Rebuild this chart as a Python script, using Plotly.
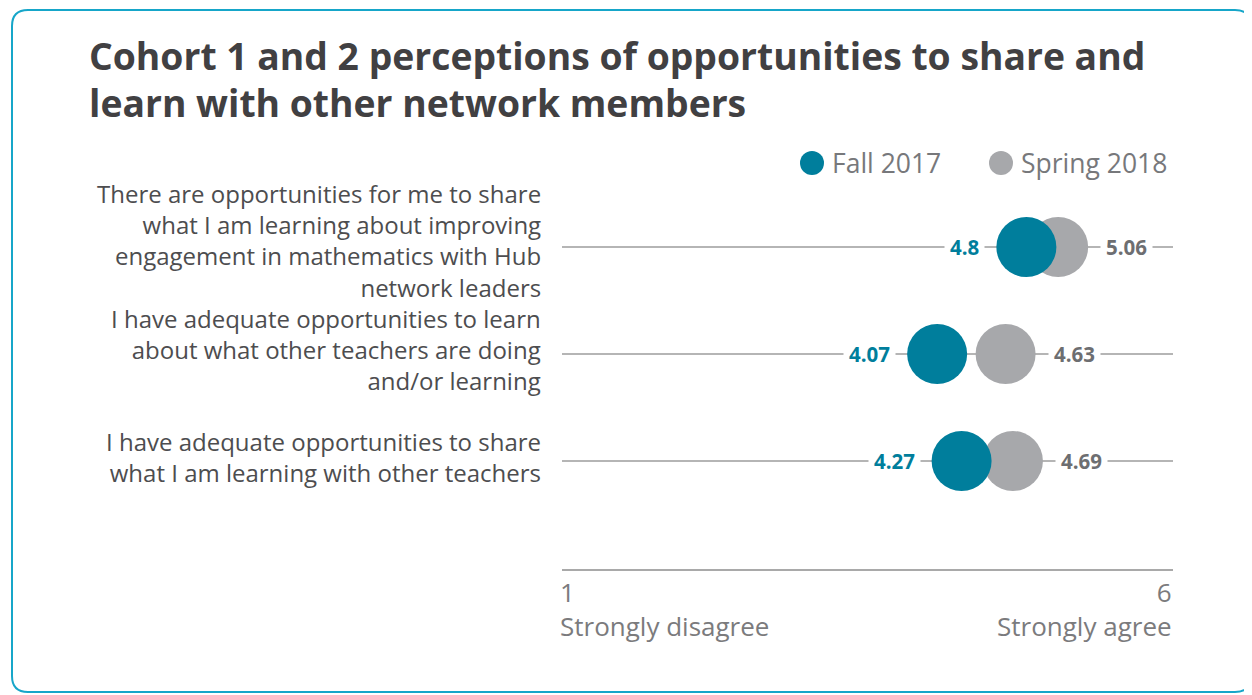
import plotly.graph_objects as go

# ---------------- data ----------------
statements = [
    ["There are opportunities for me to share", "what I am learning about improving",
     "engagement in mathematics with Hub", "network leaders"],
    ["I have adequate opportunities to learn", "about what other teachers are doing",
     "and/or learning"],
    ["I have adequate opportunities to share", "what I am learning with other teachers"],
]
fall_2017 = [4.8, 4.07, 4.27]
spring_2018 = [5.06, 4.63, 4.69]
series_names = ["Fall 2017", "Spring 2018"]
scale_min, scale_max = 1, 6
scale_labels = ["Strongly disagree", "Strongly agree"]
title_lines = ["Cohort 1 and 2 perceptions of opportunities to share and",
               "learn with other network members"]

# ---------------- style ----------------
OFF = 8                      # page body margin
W, H = 1252 - OFF, 695 - OFF
L, R, T, B = 562 - OFF, 1173 - OFF, 190 - OFF, 569 - OFF
TEAL = "#007e9c"
GRAY = "#a7a8ab"
GRAY_TXT = "#6d6e71"
LINE = "#b5b5b5"
TXT = "#4d4d4f"
TICK_TXT = "#7b7b7d"
BORDER = "#16a6c9"
FONT = "Open Sans"
ROW_LABEL_SHIFT = [7, 4, 4]


def px2x(px):  # reference-screen px -> paper
    return (px - OFF - L) / (R - L)


def py2y(py):
    return (B - (py - OFF)) / (B - T)


rows = list(range(len(statements)))

fig = go.Figure()

for r in rows:
    fig.add_shape(type="line", xref="x", yref="y", x0=scale_min, x1=scale_max,
                  y0=r, y1=r, line=dict(color=LINE, width=2), layer="below")

fig.add_trace(go.Scatter(x=spring_2018, y=rows, mode="markers", name=series_names[1],
                         marker=dict(size=60, color=GRAY, line=dict(width=0)),
                         showlegend=False, hoverinfo="x"))
fig.add_trace(go.Scatter(x=fall_2017, y=rows, mode="markers", name=series_names[0],
                         marker=dict(size=60, color=TEAL, line=dict(width=0)),
                         showlegend=False, hoverinfo="x"))

annotations = []
for r, v in zip(rows, fall_2017):
    annotations.append(dict(x=v, y=r, xref="x", yref="y", text=f"<b>{v:g}</b>",
                            showarrow=False, xanchor="right", yanchor="middle",
                            xshift=-41, bgcolor="white", borderpad=5,
                            font=dict(family=FONT, size=20.5, color=TEAL)))
for r, v in zip(rows, spring_2018):
    annotations.append(dict(x=v, y=r, xref="x", yref="y", text=f"<b>{v:g}</b>",
                            showarrow=False, xanchor="left", yanchor="middle",
                            xshift=42, bgcolor="white", borderpad=5,
                            font=dict(family=FONT, size=20.5, color=GRAY_TXT)))
# row labels
for r, lines in zip(rows, statements):
    annotations.append(dict(x=0, y=r, xref="paper", yref="y", text="<br>".join(lines),
                            showarrow=False, xanchor="right", yanchor="middle", align="right",
                            xshift=-19, yshift=ROW_LABEL_SHIFT[r],
                            font=dict(family=FONT, size=24, color=TXT)))
# axis end labels
for val, lab, anc, align, xs in [(scale_min, scale_labels[0], "left", "left", -4),
                                 (scale_max, scale_labels[1], "right", "right", 1)]:
    annotations.append(dict(x=val, y=0, xref="x", yref="paper", text=f"{val}<br>{lab}",
                            showarrow=False, xanchor=anc, yanchor="top", align=align,
                            xshift=xs, yshift=-3,
                            font=dict(family=FONT, size=26, color=TICK_TXT)))
# title
for i, tl in enumerate(title_lines):
    annotations.append(dict(x=px2x(87), y=py2y(73 + i * 46.7), xref="paper", yref="paper",
                            text=f"<b>{tl}</b>", showarrow=False,
                            xanchor="left", yanchor="bottom", yshift=-10,
                            font=dict(family=FONT, size=37.3, color="#414042")))
# legend
legend_items = [(series_names[0], TEAL, 812), (series_names[1], GRAY, 1001)]
for name, col, cx in legend_items:
    fig.add_shape(type="circle", xref="paper", yref="paper",
                  x0=px2x(cx - 12), x1=px2x(cx + 12), y0=py2y(163 + 12), y1=py2y(163 - 12),
                  fillcolor=col, line=dict(width=0))
    annotations.append(dict(x=px2x(cx + 18), y=py2y(163), xref="paper", yref="paper",
                            text=name, showarrow=False, xanchor="left", yanchor="middle",
                            font=dict(family=FONT, size=26.5, color="#77787b")))

# rounded border
x0, x1, y0, y1, rad = 12, 1251, 10, 692, 16
path = (f"M {px2x(x0 + rad)},{py2y(y0)} L {px2x(x1 - rad)},{py2y(y0)} "
        f"Q {px2x(x1)},{py2y(y0)} {px2x(x1)},{py2y(y0 + rad)} "
        f"L {px2x(x1)},{py2y(y1 - rad)} Q {px2x(x1)},{py2y(y1)} {px2x(x1 - rad)},{py2y(y1)} "
        f"L {px2x(x0 + rad)},{py2y(y1)} Q {px2x(x0)},{py2y(y1)} {px2x(x0)},{py2y(y1 - rad)} "
        f"L {px2x(x0)},{py2y(y0 + rad)} Q {px2x(x0)},{py2y(y0)} {px2x(x0 + rad)},{py2y(y0)} Z")
fig.add_shape(type="path", xref="paper", yref="paper", path=path,
              line=dict(color=BORDER, width=2), layer="below")

fig.update_layout(
    width=W, height=H,
    margin=dict(l=L, r=W - R, t=T, b=H - B),
    paper_bgcolor="white", plot_bgcolor="white",
    showlegend=False,
    annotations=annotations,
    xaxis=dict(range=[scale_min, scale_max], showgrid=False, zeroline=False,
               showticklabels=False, ticks="", showline=True, linecolor="#a9a9a9",
               linewidth=2, fixedrange=True),
    yaxis=dict(range=[3.01, -0.533], showgrid=False, zeroline=False,
               showticklabels=False, ticks="", showline=False, fixedrange=True),
    font=dict(family=FONT),
)

fig.write_html("out.html", config={"displayModeBar": False})
